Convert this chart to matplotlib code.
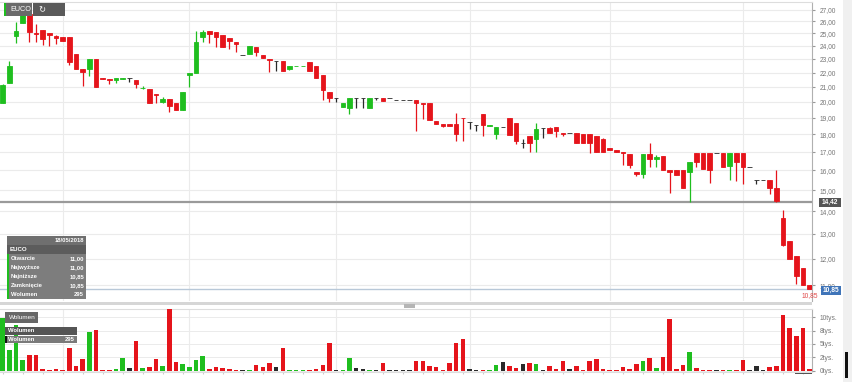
import numpy as np
import pandas as pd
import matplotlib
matplotlib.use("Agg")
import matplotlib.pyplot as plt
from matplotlib.patches import Rectangle
from matplotlib.ticker import NullLocator

plt.rcParams['font.family'] = ['Liberation Sans', 'DejaVu Sans']

# EUCO daily candles, 20/11/2017 - 18/05/2018
opens = [19.9, 21.3, 24.8, 25.9, 26.6, 25.05, 25.3, 25.0, 24.8, 24.7,
         24.7, 23.4, 22.25, 22.25, 23.0, 21.65, 21.55, 21.5, 21.55, 21.62,
         21.5, 20.9, 20.85, 20.5, 20.0, 20.2, 19.95, 19.5, 21.8, 22.0,
         24.7, 25.2, 25.1, 24.9, 24.65, 24.35, 23.33, 23.4, 23.9, 23.3,
         23.0, 22.85, 22.85, 22.3, 22.45, 22.45, 22.75, 22.45, 21.8, 20.65,
         20.25, 19.7, 19.6, 20.25, 20.25, 19.6, 20.25, 20.25, 20.25, 20.15,
         20.15, 20.15, 20.1, 19.95, 19.95, 18.8, 18.6, 18.6, 18.6, 19.0,
         18.75, 18.55, 19.25, 18.5, 18.0, 18.45, 19.0, 18.65, 17.5, 17.9,
         17.75, 18.35, 18.35, 18.45, 18.05, 18.05, 18.05, 18.0, 18.0, 17.9,
         17.7, 17.2, 17.1, 17.0, 16.9, 15.9, 15.8, 16.85, 16.6, 16.75,
         16.0, 16.0, 16.0, 15.9, 16.95, 16.95, 16.95, 16.95, 16.95, 16.25,
         16.95, 16.95, 16.15, 15.5, 15.5, 15.5, 15.1, 13.68, 12.7, 12.1,
         11.65, 11.0]
highs = [21.2, 22.85, 25.95, 27.2, 26.7, 25.75, 25.3, 25.05, 24.85, 24.7,
         24.7, 23.4, 22.3, 23.0, 23.0, 21.65, 21.55, 21.6, 21.6, 21.62,
         21.5, 21.05, 20.85, 20.5, 20.3, 20.2, 19.95, 20.65, 22.0, 25.2,
         25.3, 25.2, 25.1, 24.9, 24.65, 24.35, 23.33, 24.0, 23.9, 23.3,
         23.0, 22.85, 22.85, 22.45, 22.5, 22.5, 22.75, 22.45, 21.8, 20.65,
         20.25, 19.95, 20.25, 20.25, 20.25, 20.25, 20.25, 20.25, 20.25, 20.15,
         20.15, 20.15, 20.1, 19.95, 19.95, 18.8, 18.6, 18.6, 19.3, 19.0,
         18.75, 18.55, 19.25, 18.55, 18.4, 18.45, 19.0, 18.65, 17.75, 17.9,
         18.65, 18.35, 18.4, 18.45, 18.05, 18.05, 18.05, 18.0, 18.0, 17.9,
         17.8, 17.2, 17.1, 17.0, 16.9, 15.9, 16.85, 17.5, 16.8, 16.75,
         16.0, 16.0, 16.0, 16.45, 16.95, 16.95, 16.95, 16.95, 16.95, 16.95,
         16.95, 16.95, 16.15, 15.5, 15.5, 15.5, 16.0, 14.05, 12.7, 12.1,
         11.65, 11.0]
lows = [19.9, 21.3, 24.2, 25.9, 24.35, 24.3, 24.1, 24.0, 24.15, 24.4,
        22.55, 22.25, 21.05, 21.75, 21.0, 21.55, 21.2, 21.25, 21.55, 21.35,
        20.9, 20.85, 19.95, 19.95, 19.9, 19.35, 19.5, 19.5, 21.0, 22.0,
        24.3, 24.2, 23.9, 23.9, 23.75, 23.5, 23.33, 23.4, 23.25, 23.05,
        22.05, 22.1, 22.1, 22.2, 22.45, 22.45, 22.1, 21.6, 20.1, 20.0,
        20.0, 19.7, 19.2, 19.6, 19.6, 19.6, 20.15, 20.05, 20.25, 20.15,
        20.15, 20.15, 18.2, 18.9, 18.85, 18.6, 18.4, 18.5, 17.6, 17.6,
        18.3, 18.2, 17.9, 18.5, 17.7, 18.45, 17.95, 17.45, 17.2, 17.0,
        17.0, 17.8, 18.05, 17.85, 17.9, 18.05, 17.52, 17.52, 16.95, 17.0,
        17.0, 17.1, 17.0, 16.3, 16.1, 15.7, 15.6, 16.2, 16.2, 16.0,
        14.85, 15.75, 15.1, 14.45, 16.2, 16.05, 15.35, 16.95, 16.2, 15.5,
        15.45, 15.3, 16.15, 15.3, 15.5, 14.8, 14.42, 12.5, 12.0, 11.05,
        11.0, 10.85]
closes = [21.1, 22.5, 25.2, 26.6, 25.15, 24.95, 24.55, 24.85, 24.65, 24.4,
          22.75, 22.3, 22.05, 23.0, 21.0, 21.55, 21.5, 21.6, 21.6, 21.62,
          21.2, 20.95, 19.95, 20.45, 20.2, 19.75, 19.5, 20.65, 22.0, 24.35,
          25.15, 24.95, 24.7, 23.95, 24.4, 24.15, 23.33, 24.0, 23.55, 23.05,
          22.9, 22.85, 22.1, 22.45, 22.5, 22.5, 22.1, 21.6, 20.8, 20.25,
          20.25, 19.95, 20.25, 20.25, 20.25, 20.25, 20.25, 20.05, 20.25, 20.15,
          20.15, 20.15, 19.95, 19.85, 18.85, 18.6, 18.5, 18.5, 18.0, 18.95,
          18.75, 18.55, 18.55, 18.55, 18.4, 18.45, 17.95, 17.6, 17.5, 17.5,
          18.3, 18.35, 18.05, 18.2, 18.0, 18.05, 17.52, 17.52, 17.52, 17.0,
          17.0, 17.1, 17.0, 16.95, 16.3, 15.8, 16.85, 16.6, 16.7, 16.0,
          15.9, 15.75, 15.1, 16.45, 16.45, 16.05, 16.0, 16.95, 16.2, 16.95,
          16.45, 16.2, 16.15, 15.5, 15.5, 15.1, 14.48, 12.53, 12.0, 11.32,
          11.0, 10.85]
volumes = [9800, 3900, 8500, 2000, 3000, 3000, 250, 50, 250, 100,
           4300, 950, 2200, 7300, 7600, 80, 80, 380, 2300, 440,
           5600, 440, 700, 2200, 890, 11460, 1700, 1270, 630, 2000,
           2700, 380, 630, 570, 250, 50, 120, 190, 1000, 760,
           1400, 630, 4300, 190, 100, 80, 80, 380, 1140, 5250,
           60, 60, 2300, 570, 250, 80, 60, 1400, 120, 120,
           120, 100, 1770, 1900, 950, 700, 80, 1400, 5250, 5950,
           250, 60, 60, 60, 1000, 1700, 950, 500, 1270, 1460,
           1200, 60, 820, 380, 1900, 320, 890, 190, 1770, 2100,
           380, 50, 50, 630, 250, 1200, 1840, 2340, 440, 2530,
           9700, 250, 1140, 3500, 440, 60, 60, 60, 60, 190,
           60, 2000, 120, 820, 50, 630, 820, 10440, 8040, 6520,
           7900, 295]

holidays = ["2017-12-25", "2017-12-26", "2018-01-01", "2018-03-30",
            "2018-04-02", "2018-05-01", "2018-05-03"]
dates = pd.bdate_range("2017-11-20", "2018-05-18", freq="C", holidays=holidays)

price_ticks = list(range(11, 28))
vol_ticks = [0, 2500, 5000, 7500, 10000]
vol_labels = ["0tys.", "2tys.", "5tys.", "8tys.", "10tys."]
ref_price = 14.42
last = dict(date="18/05/2018", o=11.00, h=11.00, l=10.85, c=10.85, v=295)

GREEN = "#1fbe1f"
RED = "#e5141b"
DARK = "#2a2a2a"
GRID = "#ebebeb"

n = len(closes)
x = np.arange(n)
o = np.array(opens)
c = np.array(closes)
cols = [GREEN if cc > oo else (RED if cc < oo else DARK) for oo, cc in zip(o, c)]
month_starts = [i for i in range(1, len(dates)) if dates[i].month != dates[i - 1].month]

W, H = 852, 382
fig = plt.figure(figsize=(W / 100, H / 100), dpi=100)
fig.patch.set_facecolor("white")


def frac(x0, y0, x1, y1):
    return [x0 / W, 1 - y1 / H, (x1 - x0) / W, (y1 - y0) / H]


# price panel
ax = fig.add_axes(frac(0, 2, 812, 301))
ax.set_yscale("log")
ax.set_ylim(10.45, 27.7)
ax.set_xlim(-0.4, n - 0.65)
for p in price_ticks:
    ax.axhline(p, color=GRID, lw=0.8, zorder=0)
for m in month_starts:
    ax.axvline(m, color=GRID, lw=0.8, zorder=0)
ax.axhline(ref_price, color="#9a9a9a", lw=1.6, zorder=1)
ax.axhline(last["c"], color="#b8c8d8", lw=1.0, zorder=1)

lo = np.minimum(o, c)
hi = np.maximum(o, c)
ax.vlines(x, lows, highs, colors=cols, lw=0.9, zorder=3)
ax.bar(x, hi - lo, bottom=lo, width=0.68, color=cols, edgecolor=cols, linewidth=0.6, zorder=4)

ax.yaxis.tick_right()
ax.set_yticks(price_ticks)
ax.set_yticklabels([f"{p:.2f}".replace(".", ",") for p in price_ticks])
ax.yaxis.set_minor_locator(NullLocator())
ax.set_xticks([])
ax.tick_params(axis="y", direction="out", length=2.5, pad=3, labelsize=4.8,
               colors="#999999", labelcolor="#777777")
for s in ["left", "bottom"]:
    ax.spines[s].set_visible(False)
ax.spines["top"].set_color("#dddddd")
ax.spines["right"].set_color("#b0b0b0")

# volume panel
vax = fig.add_axes(frac(0, 309, 812, 372))
vax.set_xlim(-0.4, n - 0.65)
vax.set_ylim(-250, 11550)
for v in vol_ticks:
    vax.axhline(v, color=GRID, lw=0.7, zorder=0)
for m in month_starts:
    vax.axvline(m, color=GRID, lw=0.8, zorder=0)
vax.bar(x, volumes, width=0.68, color=cols, zorder=3)
vax.yaxis.tick_right()
vax.set_yticks(vol_ticks)
vax.set_yticklabels(vol_labels)
vax.set_xticks(x[::3])
vax.set_xticklabels([])
vax.tick_params(axis="x", direction="out", length=1.5, colors="#cccccc")
vax.tick_params(axis="y", direction="out", length=2.5, pad=3, labelsize=4.8,
                colors="#999999", labelcolor="#777777")
vax.spines["left"].set_visible(False)
vax.spines["top"].set_color("#dddddd")
vax.spines["bottom"].set_color("#dddddd")
vax.spines["right"].set_color("#b0b0b0")

# overlay for boxes and labels, in pixel coordinates
ov = fig.add_axes([0, 0, 1, 1], zorder=10)
ov.set_xlim(0, W)
ov.set_ylim(H, 0)
ov.axis("off")
ov.patch.set_alpha(0)


def box(x0, y0, x1, y1, fc):
    ov.add_patch(Rectangle((x0, y0), x1 - x0, y1 - y0, fc=fc, ec="none"))


# right edge strip and separator
box(843, 0, 852, H, "#f0f0f0")
box(0, 302, 812, 304.5, "#d6d6d6")
box(404, 304, 415, 307.5, "#b5b5b5")
box(845, 352, 847.5, 378, "#111111")
box(795, 372.5, 812, 373.5, "#555555")

# EUCO header
box(4, 3, 32, 16, "#6a6a6a")
box(4, 3, 5.5, 16, GREEN)
box(32.5, 3, 65, 16, "#5a5a5a")
ov.text(10, 9.8, "EUCO", color="white", fontsize=5.2, va="center", ha="left")
ov.text(38, 9.8, "\u21bb", color="white", fontsize=6, va="center", ha="left",
        family=["DejaVu Sans"])

# price labels on axis
box(819, 198, 841, 207, "#555555")
ov.text(830, 202.6, f"{ref_price:.2f}".replace(".", ","), color="white",
        fontsize=4.8, weight="bold", ha="center", va="center")
box(821, 285.5, 841, 294.5, "#3f74b8")
ov.text(831, 290.2, f"{last['c']:.2f}".replace(".", ","), color="white",
        fontsize=4.8, weight="bold", ha="center", va="center")
ov.text(810, 295.5, f"{last['c']:.2f}".replace(".", ","), color="#e04848",
        fontsize=4.8, ha="center", va="center")

# tooltip
fmt = lambda v: f"{v:.2f}".replace(".", ",")
box(7, 236, 86, 244.5, "#6f6f6f")
ov.text(84, 240.3, last["date"], color="white", fontsize=4.2, weight="bold",
        ha="right", va="center")
box(7, 245, 86, 253.5, "#5c5c5c")
ov.text(10, 249.3, "EUCO", color="white", fontsize=4.4, weight="bold", va="center")
rows = [("Otwarcie", fmt(last["o"])), ("Najwyższe", fmt(last["h"])),
        ("Najniższe", fmt(last["l"])), ("Zamknięcie", fmt(last["c"])),
        ("Wolumen", str(last["v"]))]
for k, (name, val) in enumerate(rows):
    y0 = 254 + 9 * k
    box(7, y0, 86, y0 + 8.5, "#7d7d7d")
    box(7, y0, 8.8, y0 + 8.5, GREEN)
    ov.text(11, y0 + 4.3, name, color="white", fontsize=4.2, weight="bold", va="center")
    ov.text(84, y0 + 4.3, val, color="white", fontsize=4.2, weight="bold",
            ha="right", va="center")

# volume legend
box(5, 312, 38, 323, "#676767")
ov.text(9, 317.6, "Wolumen", color="white", fontsize=4.6, va="center")
box(5, 327, 77, 334.5, "#555555")
ov.text(8, 330.8, "Wolumen", color="white", fontsize=4.2, weight="bold", va="center")
box(5, 335.5, 77, 343, "#7a7a7a")
box(5, 335.5, 6.5, 343, "#111111")
ov.text(8, 339.3, "Wolumen", color="white", fontsize=4.2, weight="bold", va="center")
ov.text(75, 339.3, str(last["v"]), color="white", fontsize=4.2, weight="bold",
        ha="right", va="center")

fig.savefig("out.png", dpi=100)
